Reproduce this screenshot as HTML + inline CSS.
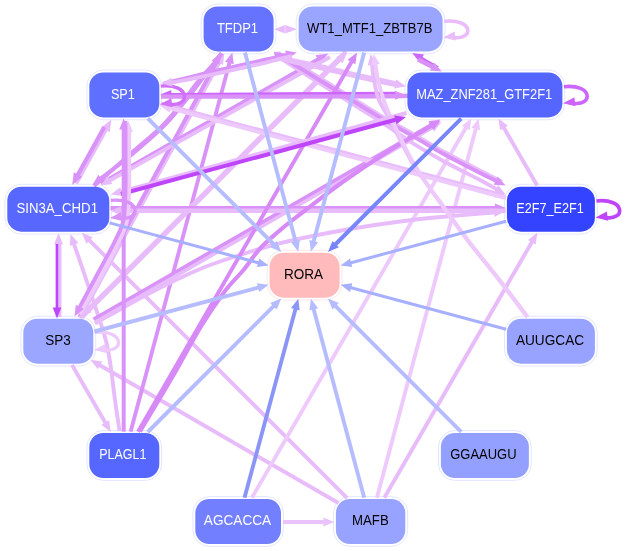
<!DOCTYPE html>
<html><head><meta charset="utf-8"><style>
html,body{margin:0;padding:0;background:#fff;}
svg{display:block;will-change:transform;}
text{font-family:"Liberation Sans",sans-serif;font-size:14px;opacity:0.99;}
</style></head><body>
<svg width="625" height="551" viewBox="0 0 625 551">
<rect x="201.2" y="4" width="74.8" height="49.8" rx="16.4" fill="none" stroke="rgba(190,198,255,0.55)" stroke-width="0.8"/>
<rect x="296.2" y="4" width="148.8" height="49.8" rx="16.4" fill="none" stroke="rgba(190,198,255,0.55)" stroke-width="0.8"/>
<rect x="86.9" y="70" width="74.8" height="49.8" rx="16.4" fill="none" stroke="rgba(190,198,255,0.55)" stroke-width="0.8"/>
<rect x="405" y="70" width="159.8" height="49.8" rx="16.4" fill="none" stroke="rgba(190,198,255,0.55)" stroke-width="0.8"/>
<rect x="4.9" y="184.3" width="106.8" height="49.8" rx="16.4" fill="none" stroke="rgba(190,198,255,0.55)" stroke-width="0.8"/>
<rect x="504.5" y="184.3" width="92.8" height="49.8" rx="16.4" fill="none" stroke="rgba(190,198,255,0.55)" stroke-width="0.8"/>
<rect x="267.2" y="250.3" width="74.8" height="49.8" rx="16.4" fill="none" stroke="rgba(240,170,170,0.35)" stroke-width="0.8"/>
<rect x="20.9" y="316.3" width="74.8" height="49.8" rx="16.4" fill="none" stroke="rgba(190,198,255,0.55)" stroke-width="0.8"/>
<rect x="504.5" y="316.3" width="92.8" height="49.8" rx="16.4" fill="none" stroke="rgba(190,198,255,0.55)" stroke-width="0.8"/>
<rect x="86.9" y="430.6" width="74.8" height="49.8" rx="16.4" fill="none" stroke="rgba(190,198,255,0.55)" stroke-width="0.8"/>
<rect x="438.5" y="430.6" width="92.8" height="49.8" rx="16.4" fill="none" stroke="rgba(190,198,255,0.55)" stroke-width="0.8"/>
<rect x="192.9" y="496.6" width="90.5" height="49.8" rx="16.4" fill="none" stroke="rgba(190,198,255,0.55)" stroke-width="0.8"/>
<rect x="333.5" y="496.6" width="74.2" height="49.8" rx="16.4" fill="none" stroke="rgba(190,198,255,0.55)" stroke-width="0.8"/>
<line x1="338.5" y1="503" x2="98.2" y2="364.3" stroke="#e8bbfb" stroke-width="3.9"/>
<path d="M90.4 359.8L102.2 361.4L97.7 369.1Z" fill="#e8bbfb"/>
<line x1="347.1" y1="498.1" x2="88.2" y2="239.1" stroke="#e8bbfb" stroke-width="3.9"/>
<path d="M81.8 232.7L92.7 237.3L86.4 243.7Z" fill="#e8bbfb"/>
<line x1="376.9" y1="497.8" x2="476.3" y2="127.1" stroke="#eecafc" stroke-width="3.9"/>
<path d="M478.6 118.4L480.1 130.2L471.4 127.8Z" fill="#eecafc"/>
<line x1="384.3" y1="497.8" x2="532.8" y2="240.5" stroke="#e8bbfb" stroke-width="3.9"/>
<path d="M537.3 232.7L535.7 244.5L527.9 240Z" fill="#e8bbfb"/>
<line x1="251.9" y1="497.8" x2="466.8" y2="126.2" stroke="#eecafc" stroke-width="3.9"/>
<path d="M471.3 118.4L469.7 130.2L461.9 125.7Z" fill="#eecafc"/>
<path d="M283 522C290.1 522 318.2 522 325.3 522" fill="none" stroke="#ebc3fc" stroke-width="4"/>
<path d="M334.3 522L323.3 526.5L323.3 517.5Z" fill="#ebc3fc"/>
<line x1="537.2" y1="185.5" x2="503" y2="126.2" stroke="#e8bbfb" stroke-width="3.9"/>
<path d="M498.5 118.4L507.9 125.7L500.1 130.2Z" fill="#e8bbfb"/>
<line x1="72" y1="364.9" x2="106.2" y2="424.2" stroke="#e8bbfb" stroke-width="3.9"/>
<path d="M110.7 432L101.3 424.7L109.1 420.2Z" fill="#e8bbfb"/>
<path d="M119.6 431C118.8 425.8 116.5 411 115 400C113.5 389 112 374.8 110.5 365C109 355.2 108.2 349.8 106 341C103.8 332.2 100.7 323.3 97 312C93.3 300.7 87.9 284.6 84 273C80.1 261.4 75.2 247.6 73.4 242.5" fill="none" stroke="#e8bbfb" stroke-width="3.9"/>
<path d="M70.5 234L78.4 242.9L69.8 245.9Z" fill="#e8bbfb"/>
<line x1="130.6" y1="431.8" x2="230" y2="61.1" stroke="#d993f8" stroke-width="3.9"/>
<path d="M232.3 52.4L233.8 64.2L225.1 61.8Z" fill="#d993f8"/>
<path d="M80 318C103.3 275.2 196.7 103.9 220 61.1" fill="none" stroke="#e8bbfb" stroke-width="3.9"/>
<path d="M224.3 53.2L223 65L215.1 60.7Z" fill="#e8bbfb"/>
<path d="M221.5 53C198.3 95.7 105.5 266.4 82.3 309.1" fill="none" stroke="#d993f8" stroke-width="3.9"/>
<path d="M78 317L79.3 305.2L87.2 309.5Z" fill="#d993f8"/>
<line x1="81.8" y1="317.7" x2="340.7" y2="58.8" stroke="#e8bbfb" stroke-width="3.9"/>
<path d="M347.1 52.4L342.5 63.3L336.1 57Z" fill="#e8bbfb"/>
<line x1="345.8" y1="51.5" x2="86.9" y2="310.5" stroke="#e8bbfb" stroke-width="3.9"/>
<path d="M80.5 316.8L85.1 305.9L91.5 312.2Z" fill="#e8bbfb"/>
<path d="M101 183.5C137.4 162.6 283.2 79.2 319.6 58.4" fill="none" stroke="#d993f8" stroke-width="3.9"/>
<path d="M328.3 53.4L320.3 63.5L315.5 55.2Z" fill="#d993f8"/>
<path d="M330 57C293.1 77.7 145.3 160.5 108.4 181.2" fill="none" stroke="#e8bbfb" stroke-width="3.9"/>
<path d="M100.5 185.6L107.9 176.3L112.3 184.1Z" fill="#e8bbfb"/>
<path d="M221.5 53.5C218.6 57.3 209.9 68.8 204 76.5C198.1 84.2 192.5 91.9 186 100C179.5 108.1 173.9 116 165 125C156.1 134 143.4 144.9 132.5 154C121.6 163.1 105 175.2 99.5 179.5" fill="none" stroke="#d993f8" stroke-width="3.9"/>
<path d="M92.4 185L98.4 174.7L103.9 181.8Z" fill="#d993f8"/>
<path d="M94 186C100 180.7 118.8 164.2 130.3 154C141.8 143.8 154.1 134 163 125C171.9 116 177.8 107.7 184 100C190.2 92.3 194.6 85.5 200 79C205.4 72.5 213.7 63.9 216.5 60.9" fill="none" stroke="#d993f8" stroke-width="3.9"/>
<path d="M220.4 52.8L219.6 64.7L211.5 60.7Z" fill="#d993f8"/>
<path d="M95.5 322.2C151.9 289.6 377.3 159.1 433.7 126.5" fill="none" stroke="#e8bbfb" stroke-width="4.2"/>
<path d="M441.5 122L434.2 131.4L429.7 123.6Z" fill="#e8bbfb"/>
<path d="M93.5 319.3C150 286.8 376 156.6 432.5 124.1" fill="none" stroke="#d993f8" stroke-width="3.5"/>
<path d="M440.3 119.6L433 129L428.5 121.2Z" fill="#d993f8"/>
<path d="M95 323.5C104.2 318.4 132.5 302.1 150 293C167.5 283.9 185 275.3 200 269C215 262.7 225.8 259.5 240 255C254.2 250.5 266.7 246.3 285 242C303.3 237.7 329.2 232.6 350 229C370.8 225.4 391.7 222.5 410 220.2C428.3 217.9 445.7 216.6 460 215.3C474.3 214 490 212.8 496 212.3" fill="none" stroke="#e8bbfb" stroke-width="3.9"/>
<path d="M505 211.5L494.4 216.9L493.7 207.9Z" fill="#e8bbfb"/>
<line x1="110.5" y1="208" x2="496.9" y2="208" stroke="#d993f8" stroke-width="3.9"/>
<path d="M505.9 208L494.9 212.5L494.9 203.5Z" fill="#d993f8"/>
<line x1="505.7" y1="210.7" x2="119.3" y2="210.7" stroke="#e8bbfb" stroke-width="4.5"/>
<path d="M110.3 210.7L121.3 206.2L121.3 215.2Z" fill="#e8bbfb"/>
<line x1="160.7" y1="103.6" x2="497.9" y2="194" stroke="#e8bbfb" stroke-width="3.9"/>
<path d="M506.6 196.3L494.8 197.8L497.1 189.1Z" fill="#e8bbfb"/>
<line x1="505.9" y1="198.2" x2="168.7" y2="107.8" stroke="#eecafc" stroke-width="3.9"/>
<path d="M160 105.5L171.8 104L169.4 112.7Z" fill="#eecafc"/>
<path d="M280 58C283.3 60.1 288.3 63.4 300 70.8C311.7 78.2 336.7 93.9 350 102.3C363.3 110.7 369.2 114.1 380 121.2C390.8 128.3 404.2 137.9 415 144.7C425.8 151.5 434.2 156.1 445 162C455.8 167.9 471.2 175.4 480 180C488.8 184.6 494.7 188.2 497.7 189.9" fill="none" stroke="#e8bbfb" stroke-width="3.9"/>
<path d="M505.5 194.3L493.7 192.8L498.1 185Z" fill="#e8bbfb"/>
<path d="M278 52.5C281.7 54.6 288 58 300 65.3C312 72.6 336.7 88 350 96.3C363.3 104.5 369.2 108.4 380 114.8C390.8 121.2 404.2 128.4 415 134.6C425.8 140.8 434.2 146.1 445 152C455.8 157.9 470.5 165.3 480 170.2C489.5 175.1 498.3 179.6 502 181.5" fill="none" stroke="#e8bbfb" stroke-width="3.2"/>
<path d="M276 54C280 56.3 287.7 60.5 300 68C312.3 75.5 336.7 90.8 350 99C363.3 107.2 369.2 111.1 380 117.5C390.8 123.9 404.2 131.2 415 137.4C425.8 143.6 434.2 148.9 445 154.8C455.8 160.7 471.2 168.5 480 173C488.8 177.5 494.6 180.1 497.5 181.6" fill="none" stroke="#d993f8" stroke-width="3.9"/>
<path d="M505.6 185.5L493.7 184.7L497.7 176.6Z" fill="#d993f8"/>
<path d="M276 54C277.3 54.8 276.7 56.8 284 59C291.3 61.2 307.3 64.1 320 67C332.7 69.9 347.1 73.6 360 76.5C372.9 79.4 391 83.1 397.2 84.4" fill="none" stroke="#e8bbfb" stroke-width="5.9"/>
<path d="M406 86.3L394.3 88.4L396.2 79.6Z" fill="#e8bbfb"/>
<path d="M163 83.8C169.2 82.3 187.2 77.6 200 74.6C212.8 71.5 229.2 68 240 65.5C250.8 63 258.3 61.2 265 59.7C271.7 58.2 276.2 57.4 280 56.5C283.8 55.6 286.7 54.8 288 54.5" fill="none" stroke="#d993f8" stroke-width="3.9"/>
<path d="M296.8 52.6L287 59.3L285.1 50.5Z" fill="#d993f8"/>
<path d="M285.5 53.8L275.7 60.5L273.8 51.7Z" fill="#d993f8"/>
<path d="M76 183.5C81.1 174.3 101.5 137.4 106.6 128.2" fill="none" stroke="#e8bbfb" stroke-width="4.2"/>
<path d="M111.4 119.4L109.8 132.2L101.4 127.6Z" fill="#e8bbfb"/>
<path d="M104.3 127C99.8 135.2 81.6 168 77 176.3" fill="none" stroke="#d993f8" stroke-width="4.2"/>
<path d="M72.2 185L73.8 172.2L82.2 176.8Z" fill="#d993f8"/>
<path d="M58.5 317C58.5 304.5 58.5 254.7 58.5 242.2" fill="none" stroke="#e8bbfb" stroke-width="5.9"/>
<path d="M58.5 233.2L63 244.2L54 244.2Z" fill="#e8bbfb"/>
<path d="M57 244C57 254.9 57 298.6 57 309.5" fill="none" stroke="#bf45fa" stroke-width="2.5"/>
<path d="M57 318.5L52.7 307.5L61.3 307.5Z" fill="#bf45fa"/>
<path d="M140 431.5C145.2 422.7 161.3 396 171.5 378.5C181.7 361 192.1 341.1 201 326.5C209.9 311.9 217.9 300.4 225 291C232.1 281.6 237.5 277.2 243.5 270C249.5 262.8 254.1 254.8 261 247.5C267.9 240.2 277.7 232.2 285 226C292.3 219.8 294.9 218.2 305 210.5C315.1 202.8 331 190.2 345.5 180C360 169.8 377.5 158.1 392 149C406.5 139.9 425.9 129.1 432.7 125.1" fill="none" stroke="#d78af7" stroke-width="4.1"/>
<path d="M440.5 120.6L433.3 130L428.7 122.3Z" fill="#d78af7"/>
<line x1="138" y1="431.8" x2="352.5" y2="60.2" stroke="#d78af7" stroke-width="3.9"/>
<path d="M357 52.4L355.4 64.2L347.6 59.7Z" fill="#d78af7"/>
<path d="M396 93.2C358.2 93.4 207.1 94.2 169.3 94.5" fill="none" stroke="#cd66fc" stroke-width="3.0"/>
<path d="M160.3 94.5L171.3 89.9L171.3 98.9Z" fill="#cd66fc"/>
<path d="M161 96.6C199.2 96.6 350.7 96.6 390 96.4C429.3 96.2 395.8 95.5 397 95.3" fill="none" stroke="#d993f8" stroke-width="4.2"/>
<path d="M406 95.3L395 99.8L395 90.8Z" fill="#d993f8"/>
<path d="M438 67.5C435 65.8 423 59 420 57.3" fill="none" stroke="#cd66fc" stroke-width="2.9"/>
<path d="M412.2 52.9L424 54.4L419.6 62.2Z" fill="#cd66fc"/>
<path d="M418 59.5C420.6 60.8 431.1 66.1 433.8 67.4" fill="none" stroke="#d993f8" stroke-width="4.5"/>
<path d="M441.8 71.4L429.9 70.5L434 62.5Z" fill="#d993f8"/>
<path d="M287 29.3C287.1 29.3 287.2 29.3 287.3 29.3" fill="none" stroke="#e8bbfb" stroke-width="3"/>
<path d="M296.8 29.3L285.3 33.5L285.3 25.1Z" fill="#e8bbfb"/>
<path d="M283 29.3C283 29.3 282.8 29.3 282.8 29.3" fill="none" stroke="#e8bbfb" stroke-width="3"/>
<path d="M274.3 29.3L284.8 25.1L284.8 33.5Z" fill="#e8bbfb"/>
<path d="M527.5 317C522.4 310.3 507 289.8 497 277C487 264.2 477.2 252.8 467.5 240C457.8 227.2 445.8 210 438.5 200C431.2 190 428.6 186.7 424 180C419.4 173.3 416.4 170 410.7 160C405 150 395.3 130 390 120C384.7 110 381.6 106.7 378.9 100C376.2 93.3 375.2 86.2 374 80C372.8 73.8 372.2 65.8 371.9 62.9" fill="none" stroke="#e8bbfb" stroke-width="3.9"/>
<path d="M370.8 54L376.6 64.4L367.7 65.5Z" fill="#e8bbfb"/>
<path d="M527.5 317C522.4 310.3 507 289.8 497 277C487 264.2 477.2 252.8 467.5 240C457.8 227.2 445.7 210 438.5 200C431.3 190 429 186.7 424.5 180C420 173.3 417.1 170 411.7 160C406.3 150 396.7 130 392 120C387.3 110 385.9 106.7 383.6 100C381.3 93.3 379.4 86.2 378 80C376.6 73.8 375.6 65.7 375.2 62.9" fill="none" stroke="#eecafc" stroke-width="3.9"/>
<path d="M373.7 54L379.9 64.1L371.1 65.6Z" fill="#eecafc"/>
<path d="M444.1 21.3C474 18.3 474 40.4 453.2 37.4" fill="none" stroke="#eabcfb" stroke-width="3.6"/>
<path d="M443.2 37.4L454.6 31.4L455.7 40.5Z" fill="#eabcfb"/>
<path d="M563.9 86.7C593.2 83.7 593.2 106.2 573 103.2" fill="none" stroke="#cd66fc" stroke-width="3.6"/>
<path d="M563 103.2L574.4 97.2L575.5 106.3Z" fill="#cd66fc"/>
<path d="M596.4 201C625.7 198 625.7 220.6 605.5 217.6" fill="none" stroke="#bf45fa" stroke-width="3.7"/>
<path d="M595.5 217.6L606.9 211.6L608 220.7Z" fill="#bf45fa"/>
<path d="M160.8 86.1C190.7 83.1 190.7 107.2 169.9 104.2" fill="none" stroke="#d070fb" stroke-width="3.4"/>
<path d="M159.9 104.2L171.3 98.2L172.4 107.3Z" fill="#d070fb"/>
<path d="M94.8 332.4C124.7 329.4 124.7 352.9 103.9 349.9" fill="none" stroke="#eecafc" stroke-width="3.3"/>
<path d="M93.9 349.9L105.3 343.9L106.4 353Z" fill="#eecafc"/>
<path d="M406.5 113C358.7 126.2 167.3 179 119.5 192.2" fill="none" stroke="#e8bbfb" stroke-width="3.9"/>
<path d="M110.8 194.6L120.2 187.3L122.6 196Z" fill="#e8bbfb"/>
<path d="M121 194C167.1 181.6 351.3 131.8 397.3 119.3" fill="none" stroke="#bf45fa" stroke-width="4"/>
<path d="M406 117L396.6 124.2L394.2 115.5Z" fill="#bf45fa"/>
<line x1="123.7" y1="431.8" x2="123.7" y2="127.4" stroke="#d993f8" stroke-width="4"/>
<path d="M123.7 118.4L128.2 129.4L119.2 129.4Z" fill="#d993f8"/>
<path d="M79 314C82.7 307.5 94.5 287 101 275C107.5 263 113.8 251.2 118 242C122.2 232.8 124.8 228.7 126.5 220C128.2 211.3 128.2 201.7 128.5 190C128.8 178.3 128.5 160 128.5 150C128.5 140 128.5 133.3 128.5 130" fill="none" stroke="#eecafc" stroke-width="5.2"/>
<path d="M128.5 121L133 132L124 132Z" fill="#eecafc"/>
<path d="M125.5 121C125.5 125.8 125.5 138.5 125.5 150C125.5 161.5 125.8 178.3 125.5 190C125.2 201.7 125.2 211.5 123.5 220C121.8 228.5 119.2 232.2 115 241C110.8 249.8 104 261.7 98 273C92 284.3 82 302.7 78.8 308.6" fill="none" stroke="#d993f8" stroke-width="3.9"/>
<path d="M74.5 316.5L75.8 304.7L83.7 309Z" fill="#d993f8"/>
<path d="M110.8 200.4C141.4 197.4 141.4 221 119.9 218" fill="none" stroke="#d993f8" stroke-width="3.4"/>
<path d="M109.9 218L121.3 212L122.4 221.1Z" fill="#d993f8"/>
<path d="M292 56C290 56.5 284.5 57.9 280 59C275.5 60.1 271.7 61.2 265 62.8C258.3 64.4 250.8 66 240 68.4C229.2 70.8 210.8 74.9 200 77.2C189.2 79.5 180 81.1 175 82C170 82.9 171 82.4 170.2 82.5" fill="none" stroke="#e8bbfb" stroke-width="3.9"/>
<path d="M161.2 83.3L171.7 77.8L172.6 86.7Z" fill="#e8bbfb"/>
<line x1="245" y1="52.6" x2="296" y2="243" stroke="#b5bcff" stroke-width="3.9"/>
<path d="M298.3 251.7L291.1 242.2L299.8 239.9Z" fill="#b5bcff"/>
<line x1="364.2" y1="52.6" x2="313.2" y2="243" stroke="#b5bcff" stroke-width="3.9"/>
<path d="M310.9 251.7L309.4 239.9L318.1 242.2Z" fill="#b5bcff"/>
<line x1="147.8" y1="118.4" x2="274.9" y2="245.5" stroke="#b5bcff" stroke-width="3.9"/>
<path d="M281.3 251.9L270.3 247.3L276.7 240.9Z" fill="#b5bcff"/>
<line x1="109.6" y1="222.9" x2="259.9" y2="263.2" stroke="#a7afff" stroke-width="3"/>
<path d="M268.6 265.6L256.9 267.1L259.2 258.4Z" fill="#a7afff"/>
<line x1="94.4" y1="331.5" x2="259.9" y2="287.2" stroke="#b5bcff" stroke-width="3.9"/>
<path d="M268.6 284.8L259.2 292L256.9 283.3Z" fill="#b5bcff"/>
<line x1="147.8" y1="432" x2="274.9" y2="304.9" stroke="#b5bcff" stroke-width="3.9"/>
<path d="M281.3 298.5L276.7 309.5L270.3 303.1Z" fill="#b5bcff"/>
<line x1="244.5" y1="497.8" x2="295.9" y2="307.4" stroke="#8a95f6" stroke-width="3.9"/>
<path d="M298.3 298.7L299.7 310.5L291 308.1Z" fill="#8a95f6"/>
<line x1="364.2" y1="497.8" x2="313.2" y2="307.4" stroke="#b5bcff" stroke-width="3.9"/>
<path d="M310.9 298.7L318.1 308.2L309.4 310.5Z" fill="#b5bcff"/>
<line x1="461.2" y1="431.8" x2="334.3" y2="304.9" stroke="#b5bcff" stroke-width="3.9"/>
<path d="M327.9 298.5L338.9 303.1L332.5 309.5Z" fill="#b5bcff"/>
<line x1="506.1" y1="329.2" x2="349.3" y2="287.2" stroke="#a7afff" stroke-width="3"/>
<path d="M340.6 284.8L352.3 283.3L350 292Z" fill="#a7afff"/>
<line x1="506.1" y1="221.2" x2="349.3" y2="263.2" stroke="#a7afff" stroke-width="3"/>
<path d="M340.6 265.6L350 258.4L352.3 267.1Z" fill="#a7afff"/>
<line x1="461.2" y1="118.6" x2="334.3" y2="245.5" stroke="#7886fc" stroke-width="3.9"/>
<path d="M327.9 251.9L332.5 240.9L338.9 247.3Z" fill="#7886fc"/>
<rect x="203.6" y="6.4" width="70" height="45" rx="14" fill="#6673ff"/>
<text x="237.5" y="32.6" fill="#fff" textLength="41.2" lengthAdjust="spacingAndGlyphs" text-anchor="middle">TFDP1</text>
<rect x="298.6" y="6.4" width="144" height="45" rx="14" fill="#9aa5ff"/>
<text x="369.8" y="32.6" fill="#000" textLength="125.4" lengthAdjust="spacingAndGlyphs" text-anchor="middle">WT1_MTF1_ZBTB7B</text>
<rect x="89.3" y="72.4" width="70" height="45" rx="14" fill="#5f6fff"/>
<text x="122.9" y="98.6" fill="#fff" textLength="24" lengthAdjust="spacingAndGlyphs" text-anchor="middle">SP1</text>
<rect x="407.4" y="72.4" width="155" height="45" rx="14" fill="#5566ff"/>
<text x="484.2" y="98.6" fill="#fff" textLength="136" lengthAdjust="spacingAndGlyphs" text-anchor="middle">MAZ_ZNF281_GTF2F1</text>
<rect x="7.3" y="186.7" width="102" height="45" rx="14" fill="#5868ff"/>
<text x="57.2" y="212.9" fill="#fff" textLength="81.6" lengthAdjust="spacingAndGlyphs" text-anchor="middle">SIN3A_CHD1</text>
<rect x="506.9" y="186.7" width="88" height="45" rx="14" fill="#3443ff"/>
<text x="550" y="212.9" fill="#fff" textLength="67.6" lengthAdjust="spacingAndGlyphs" text-anchor="middle">E2F7_E2F1</text>
<rect x="269.6" y="252.7" width="70" height="45" rx="14" fill="#ffbbbb"/>
<text x="303.6" y="278.9" fill="#000" textLength="39.1" lengthAdjust="spacingAndGlyphs" text-anchor="middle">RORA</text>
<rect x="23.3" y="318.7" width="70" height="45" rx="14" fill="#9aa6ff"/>
<text x="58" y="344.9" fill="#000" textLength="25.5" lengthAdjust="spacingAndGlyphs" text-anchor="middle">SP3</text>
<rect x="506.9" y="318.7" width="88" height="45" rx="14" fill="#98a3ff"/>
<text x="550" y="344.9" fill="#000" textLength="68.2" lengthAdjust="spacingAndGlyphs" text-anchor="middle">AUUGCAC</text>
<rect x="89.3" y="433" width="70" height="45" rx="14" fill="#5567ff"/>
<text x="122.8" y="459.2" fill="#fff" textLength="47.3" lengthAdjust="spacingAndGlyphs" text-anchor="middle">PLAGL1</text>
<rect x="440.9" y="433" width="88" height="45" rx="14" fill="#94a0ff"/>
<text x="483.4" y="459.2" fill="#000" textLength="66.5" lengthAdjust="spacingAndGlyphs" text-anchor="middle">GGAAUGU</text>
<rect x="195.3" y="499" width="85.7" height="45" rx="14" fill="#727fff"/>
<text x="237.5" y="525.2" fill="#fff" textLength="67.4" lengthAdjust="spacingAndGlyphs" text-anchor="middle">AGCACCA</text>
<rect x="335.9" y="499" width="69.4" height="45" rx="14" fill="#98a3ff"/>
<text x="370.4" y="525.2" fill="#000" textLength="36.7" lengthAdjust="spacingAndGlyphs" text-anchor="middle">MAFB</text>
</svg>
</body></html>
